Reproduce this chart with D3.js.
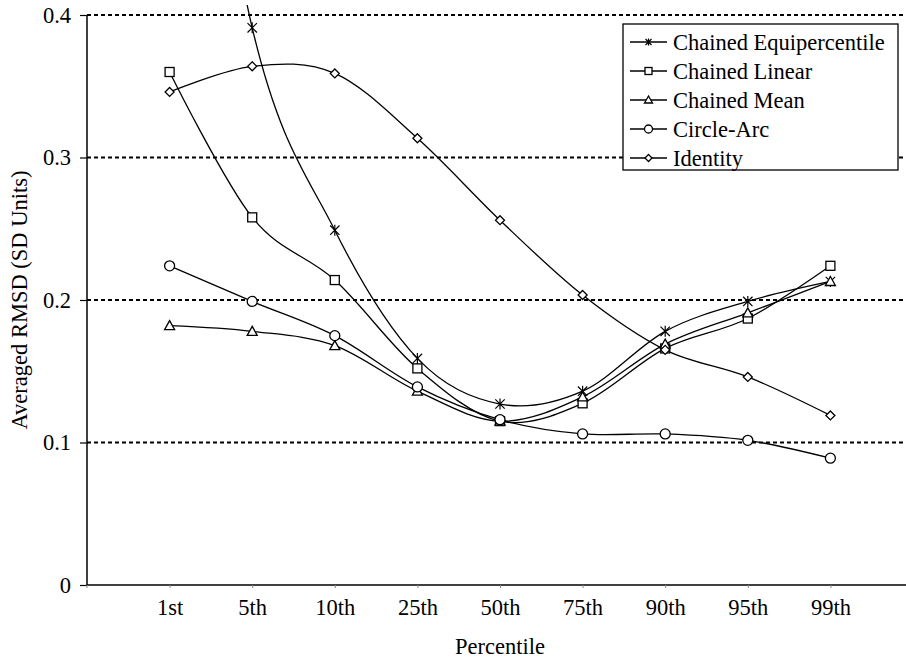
<!DOCTYPE html>
<html>
<head>
<meta charset="utf-8">
<script src="https://cdn.jsdelivr.net/npm/d3@7"></script>
<style>
  html, body { margin: 0; padding: 0; background: #fff; }
  svg { display: block; }
</style>
</head>
<body>
<svg id="chart" width="906" height="661"></svg>
<script>
// Percentile categories along the x axis
const categories = ["1st", "5th", "10th", "25th", "50th", "75th", "90th", "95th", "99th"];

// Averaged RMSD (SD units) per method
const chainedEquipercentile = [0.74, 0.391, 0.249, 0.159, 0.127, 0.136, 0.178, 0.199, 0.213];
const chainedLinear        = [0.360, 0.258, 0.214, 0.152, 0.115, 0.1275, 0.166, 0.187, 0.224];
const chainedMean          = [0.182, 0.178, 0.168, 0.136, 0.115, 0.132, 0.169, 0.191, 0.213];
const circleArc            = [0.224, 0.199, 0.175, 0.139, 0.116, 0.106, 0.106, 0.1015, 0.089];
const identity             = [0.346, 0.364, 0.359, 0.3135, 0.256, 0.2035, 0.165, 0.146, 0.119];

const seriesNames = ["Chained Equipercentile", "Chained Linear", "Chained Mean", "Circle-Arc", "Identity"];
const seriesValues = [chainedEquipercentile, chainedLinear, chainedMean, circleArc, identity];
const seriesMarkers = ["star", "square", "triangle", "circle", "diamond"];

const yTicks = [0, 0.1, 0.2, 0.3, 0.4];
const yTickLabels = ["0", "0.1", "0.2", "0.3", "0.4"];

const FONT = "'Liberation Serif', 'Times New Roman', Tinos, 'DejaVu Serif', serif";
const FONT_SIZE = "22.5px";
const plotLeft = 87, plotRight = 906, plotTop = 15, plotBottom = 585;

const svg = d3.select("#chart")
  .attr("font-family", FONT);

// categories sit at positions 1..9 on a 0..10 axis
const x = d3.scaleLinear().domain([0, 10]).range([plotLeft, 913]);
const y = d3.scaleLinear().domain([0, 0.4]).range([plotBottom, plotTop]);

// dashed horizontal gridlines
svg.append("g").selectAll("line")
  .data(yTicks.filter(d => d > 0))
  .join("line")
  .attr("x1", plotLeft).attr("x2", plotRight)
  .attr("y1", d => y(d)).attr("y2", d => y(d))
  .attr("stroke", "#000").attr("stroke-width", 2)
  .attr("stroke-dasharray", "4,3");

// y axis
const yAxis = d3.axisLeft(y).tickValues(yTicks)
  .tickFormat((d, i) => yTickLabels[i]).tickSize(7).tickPadding(9);
const gy = svg.append("g").attr("transform", `translate(${plotLeft},0)`).call(yAxis)
  .attr("font-family", FONT).attr("font-size", FONT_SIZE);
gy.select(".domain").attr("stroke", "#000").attr("stroke-width", 1.5).attr("d", `M0,${plotTop}V${plotBottom}`);
gy.selectAll(".tick line").attr("stroke", "#000").attr("stroke-width", 1.2);
gy.selectAll(".tick text").attr("fill", "#000").attr("dy", "0.32em");

// x axis
const xAxis = d3.axisBottom(x).tickValues(d3.range(1, categories.length + 1))
  .tickFormat(d => categories[d - 1]).tickSize(3).tickPadding(10);
const gx = svg.append("g").attr("transform", `translate(0,${plotBottom})`).call(xAxis)
  .attr("font-family", FONT).attr("font-size", FONT_SIZE);
gx.select(".domain").attr("stroke", "#000").attr("stroke-width", 1.5).attr("d", `M${plotLeft},0H${plotRight}`);
gx.selectAll(".tick line").attr("stroke", "#888").attr("stroke-width", 1);
gx.selectAll(".tick text").attr("fill", "#000").attr("dy", "0.75em");
gx.append("line").attr("x1", plotLeft).attr("x2", plotLeft).attr("y1", 0).attr("y2", 3)
  .attr("stroke", "#888");

// axis titles
svg.append("text")
  .attr("transform", `translate(27,${(plotTop + plotBottom) / 2}) rotate(-90)`)
  .attr("text-anchor", "middle")
  .attr("font-size", FONT_SIZE)
  .text("Averaged RMSD (SD Units)");

svg.append("text")
  .attr("x", x(5)).attr("y", 654)
  .attr("text-anchor", "middle")
  .attr("font-size", FONT_SIZE)
  .text("Percentile");

// clip for the series
svg.append("clipPath").attr("id", "plotClip")
  .append("rect").attr("x", plotLeft).attr("y", 5)
  .attr("width", plotRight - plotLeft).attr("height", plotBottom - 5);

const line = d3.line()
  .x((d, i) => x(i + 1))
  .y(d => y(d))
  .curve(d3.curveCardinal.tension(0));

function drawMarker(g, type, cx, cy, s) {
  const h = s / 2;
  if (type === "square") {
    g.append("rect").attr("x", cx - h).attr("y", cy - h).attr("width", s).attr("height", s)
      .attr("fill", "#fff").attr("stroke", "#000").attr("stroke-width", 1.3);
  } else if (type === "circle") {
    g.append("circle").attr("cx", cx).attr("cy", cy).attr("r", h + 0.5)
      .attr("fill", "#fff").attr("stroke", "#000").attr("stroke-width", 1.3);
  } else if (type === "triangle") {
    g.append("path").attr("d", `M${cx},${cy - h - 0.5}L${cx + h + 0.5},${cy + h - 0.5}L${cx - h - 0.5},${cy + h - 0.5}Z`)
      .attr("fill", "#fff").attr("stroke", "#000").attr("stroke-width", 1.3);
  } else if (type === "diamond") {
    g.append("path").attr("d", `M${cx},${cy - h}L${cx + h},${cy}L${cx},${cy + h}L${cx - h},${cy}Z`)
      .attr("fill", "#fff").attr("stroke", "#000").attr("stroke-width", 1.3);
  } else if (type === "star") {
    const d = h * 0.85;
    g.append("path")
      .attr("d", `M${cx},${cy - h}V${cy + h}M${cx - d},${cy - d}L${cx + d},${cy + d}M${cx + d},${cy - d}L${cx - d},${cy + d}`)
      .attr("fill", "none").attr("stroke", "#000").attr("stroke-width", 1.2);
  }
}

const plot = svg.append("g").attr("clip-path", "url(#plotClip)");

seriesValues.forEach(vals => {
  plot.append("path").datum(vals)
    .attr("d", line)
    .attr("fill", "none").attr("stroke", "#000").attr("stroke-width", 1.3);
});
seriesValues.forEach((vals, k) => {
  const g = plot.append("g");
  vals.forEach((v, i) => drawMarker(g, seriesMarkers[k], x(i + 1), y(v), k === 0 ? 11 : 9));
});

// legend
const legend = svg.append("g");
legend.append("rect")
  .attr("x", 623).attr("y", 24).attr("width", 275).attr("height", 146)
  .attr("fill", "#fff").attr("stroke", "#000").attr("stroke-width", 1.3);
seriesNames.forEach((name, k) => {
  const cy = 42 + k * 29;
  const g = legend.append("g");
  g.append("line").attr("x1", 630).attr("x2", 667).attr("y1", cy).attr("y2", cy)
    .attr("stroke", "#000").attr("stroke-width", 1.3);
  drawMarker(g, seriesMarkers[k], 648.5, cy, 7);
  g.append("text").attr("x", 673).attr("y", cy).attr("dy", "0.34em")
    .attr("font-size", FONT_SIZE).text(name);
});
</script>
</body>
</html>
